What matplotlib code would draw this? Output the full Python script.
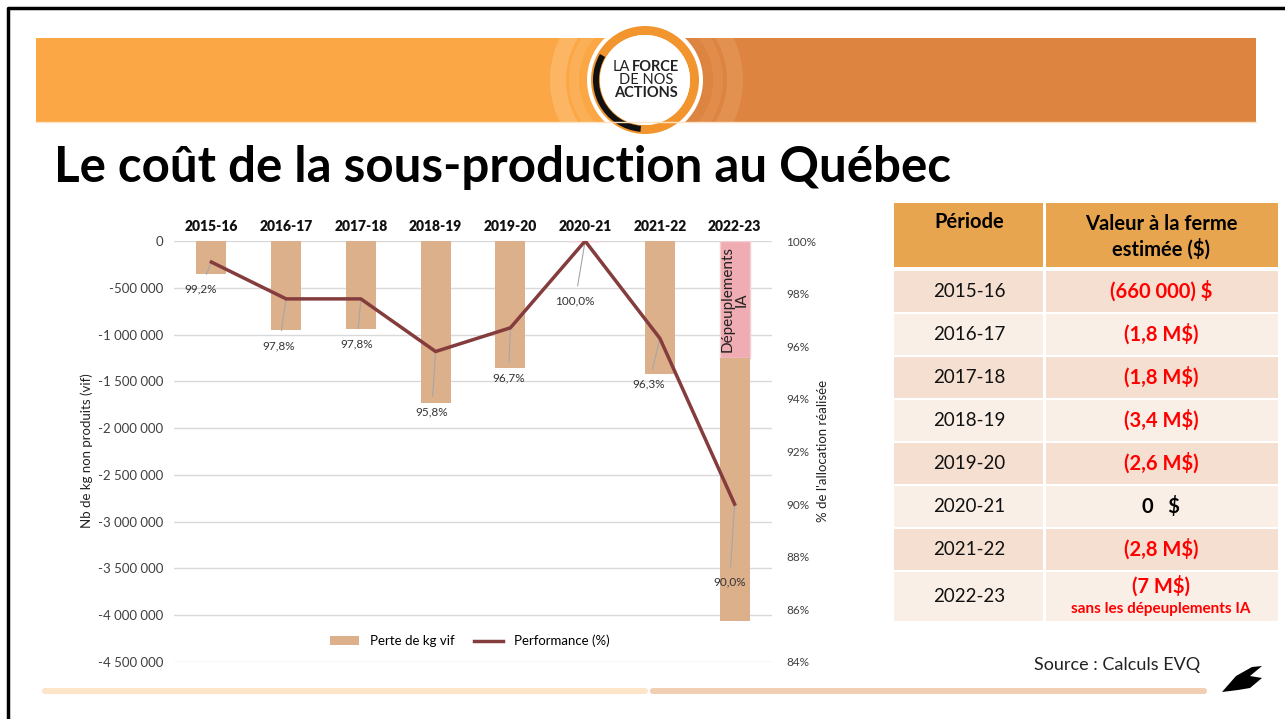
import matplotlib.pyplot as plt
from matplotlib.patches import Rectangle, FancyBboxPatch, Circle, Wedge, Polygon
from matplotlib.ticker import FuncFormatter, MultipleLocator

plt.rcParams['font.family'] = ['Lato', 'DejaVu Sans']

# ===== data =====
periodes = ['2015-16', '2016-17', '2017-18', '2018-19', '2019-20', '2020-21', '2021-22', '2022-23']
perte_kg = [-350000, -950000, -940000, -1730000, -1360000, 0, -1420000, -2810000]
depeuplement_kg = [0, 0, 0, 0, 0, 0, 0, -1250000]
performance = [99.2, 97.8, 97.8, 95.8, 96.7, 100.0, 96.3, 90.0]
valeurs = ['(660 000) $', '(1,8 M$)', '(1,8 M$)', '(3,4 M$)', '(2,6 M$)', '0   $', '(2,8 M$)', '(7 M$)']

# label offsets (pixels) for the percentage labels
lbl_off = [(-11, -27), (-7, -47), (-4, -45), (-4, -60), (-2, -50), (-10, -60), (-11, -46), (-5, -78)]

W, H = 1285, 719
fig = plt.figure(figsize=(W / 100, H / 100), dpi=100)

# ===== background slide (pixel coords) =====
bg = fig.add_axes([0, 0, 1, 1])
bg.set_xlim(0, W)
bg.set_ylim(H, 0)
bg.axis('off')

# frame
bg.plot([8, 8, W], [H, 8, 8], color='black', lw=2.5)

# header band
band = Rectangle((36, 38), 1220, 84, color='none', lw=0)
bg.add_patch(band)
bg.add_patch(Rectangle((36, 38), 612, 84, color='#FBA746', lw=0))
bg.add_patch(Rectangle((648, 38), 608, 84, color='#DD8441', lw=0))
arcs = [
    Wedge((645, 80), 95, 100, 260, width=16, color='#FDC27A', alpha=0.55, lw=0),
    Wedge((645, 80), 76, 110, 250, width=10, color='#FCB763', alpha=0.6, lw=0),
    Wedge((645, 80), 98, -80, 80, width=16, color='#E79A5C', alpha=0.6, lw=0),
    Wedge((645, 80), 78, -70, 70, width=10, color='#E59353', alpha=0.6, lw=0),
]
for a in arcs:
    bg.add_patch(a)
    a.set_clip_path(band)
bg.plot([36, 1256], [122, 122], color='#FDE3C4', lw=1)

# logo
bg.add_patch(Circle((645, 80), 58, color='white', lw=0))
bg.add_patch(Wedge((645, 80), 54, 0, 360, width=9, color='#F2952F', lw=0))
bg.add_patch(Wedge((645, 80), 52, 95, 210, width=6, color='#111111', lw=0))
bg.add_patch(Circle((645, 80), 45, color='white', lw=0))
bg.text(630, 67, 'LA', fontsize=10.5, ha='right', va='center', color='#222222')
bg.text(632, 67, 'FORCE', fontsize=10.5, ha='left', va='center', fontweight='bold', color='#222222')
bg.text(646, 80, 'DE NOS', fontsize=10.5, ha='center', va='center', color='#222222')
bg.text(646, 93, 'ACTIONS', fontsize=10.5, ha='center', va='center', fontweight='bold', color='#222222')

# title
bg.text(54, 167, 'Le coût de la sous-production au Québec', fontsize=35.5, fontweight='bold',
        ha='left', va='center', color='black')

# bottom bars
bg.add_patch(FancyBboxPatch((42, 688), 606, 6, boxstyle='round,pad=0,rounding_size=3',
                            color='#FDE5CA', lw=0))
bg.add_patch(FancyBboxPatch((650, 688), 557, 6, boxstyle='round,pad=0,rounding_size=3',
                            color='#F2CEB3', lw=0))
bg.text(1200, 665, 'Source : Calculs EVQ', fontsize=13, ha='right', va='center', color='#222222')

# leaf logo
bg.add_patch(Polygon([(1222, 692), (1236, 676), (1252, 667), (1262, 666), (1250, 676),
                      (1262, 678), (1250, 688), (1238, 690)], closed=True, color='black', lw=0))

# ===== table =====
tx0, tx1, tx2 = 894, 1044, 1278
bg.add_patch(Rectangle((tx0, 203), tx1 - tx0 - 1.5, 64, color='#E8A550', lw=0))
bg.add_patch(Rectangle((tx1 + 1.5, 203), tx2 - tx1 - 1.5, 64, color='#E8A550', lw=0))
bg.text((tx0 + tx1) / 2, 222, 'Période', fontsize=14.5, fontweight='bold', ha='center', va='center')
bg.text((tx1 + tx2) / 2, 237, 'Valeur à la ferme\nestimée ($)', fontsize=14.5, fontweight='bold',
        ha='center', va='center', linespacing=1.25)
row_tops = [271, 314, 357, 400, 443, 486, 529, 572]
row_h = [41, 41, 41, 41, 41, 41, 41, 49]
for i, p in enumerate(periodes):
    c = '#F5DFD0' if i % 2 == 0 else '#FAEFE7'
    y0 = row_tops[i]
    bg.add_patch(Rectangle((tx0, y0), tx1 - tx0 - 1.5, row_h[i], color=c, lw=0))
    bg.add_patch(Rectangle((tx1 + 1.5, y0), tx2 - tx1 - 1.5, row_h[i], color=c, lw=0))
    yc = y0 + row_h[i] / 2
    bg.text((tx0 + tx1) / 2, yc, p, fontsize=13.5, ha='center', va='center', color='#111111')
    col = 'black' if valeurs[i].startswith('0') else '#FF0000'
    if i == len(periodes) - 1:
        bg.text((tx1 + tx2) / 2, yc - 10, valeurs[i], fontsize=14.5, fontweight='bold',
                ha='center', va='center', color=col)
        bg.text((tx1 + tx2) / 2, yc + 13, 'sans les dépeuplements IA', fontsize=11,
                fontweight='bold', ha='center', va='center', color=col)
    else:
        bg.text((tx1 + tx2) / 2, yc, valeurs[i], fontsize=14.5, fontweight='bold',
                ha='center', va='center', color=col)

# axis titles
bg.text(87, 451, 'Nb de kg non produits (vif)', rotation=90, fontsize=9.5, ha='center',
        va='center', color='#222222')
bg.text(823, 451, "% de l'allocation réalisée", rotation=90, fontsize=9.5, ha='center',
        va='center', color='#222222')

# ===== chart =====
ax = fig.add_axes([174 / W, (H - 662) / H, (772 - 174) / W, (662 - 241) / H])
ax.patch.set_alpha(0)
x = list(range(len(periodes)))
ax.bar(x, depeuplement_kg, width=0.4, color='#EFADB3', edgecolor='#F5CCD0', lw=1, zorder=2)
ax.bar(x, perte_kg, width=0.4, bottom=depeuplement_kg, color='#DDB08C', lw=0, zorder=2,
       label='Perte de kg vif')
ax.text(7, -625000, 'Dépeuplements\nIA', rotation=90, ha='center', va='center', fontsize=11,
        color='#222222', linespacing=1.0, zorder=3)
ax.set_ylim(-4500000, 0)
ax.set_xlim(-0.5, 7.5)
ax.yaxis.set_major_locator(MultipleLocator(500000))
ax.yaxis.set_major_formatter(FuncFormatter(lambda v, p: f'{int(round(v)):,}'.replace(',', ' ')))
ax.grid(axis='y', color='#D9D9D9', lw=1, zorder=0)
ax.set_axisbelow(True)
ax.xaxis.tick_top()
ax.set_xticks(x)
ax.set_xticklabels(periodes, fontweight='heavy', fontsize=10, color='#111111')
ax.tick_params(axis='both', length=0)
ax.tick_params(axis='y', labelsize=9.5, colors='#404040', pad=8)
ax.tick_params(axis='x', pad=6)
for s in ax.spines.values():
    s.set_visible(False)

ax2 = ax.twinx()
ax2.plot(x, performance, color='#843C3C', lw=2.5, label='Performance (%)', zorder=4)
ax2.set_ylim(84, 100)
ax2.yaxis.set_major_locator(MultipleLocator(2))
ax2.yaxis.set_major_formatter(FuncFormatter(lambda v, p: f'{v:.0f}%'))
ax2.tick_params(axis='y', length=0, labelsize=8.5, colors='#404040', pad=10)
for s in ax2.spines.values():
    s.set_visible(False)

for xi, v, off in zip(x, performance, lbl_off):
    ax2.annotate(f'{v:.1f}%'.replace('.', ','), xy=(xi, v), xytext=off, textcoords='offset pixels',
                 ha='center', va='center', fontsize=8.5, color='#333333',
                 arrowprops=dict(arrowstyle='-', color='#A6A6A6', lw=0.8, shrinkA=5, shrinkB=0))

h1, l1 = ax.get_legend_handles_labels()
h2, l2 = ax2.get_legend_handles_labels()
ax2.legend(h1 + h2, l1 + l2, loc='center', bbox_to_anchor=(0.495, 0.05), ncol=2, frameon=False,
           fontsize=9.5, handlelength=2.2, columnspacing=1.5)

fig.savefig('out.png', dpi=100)
